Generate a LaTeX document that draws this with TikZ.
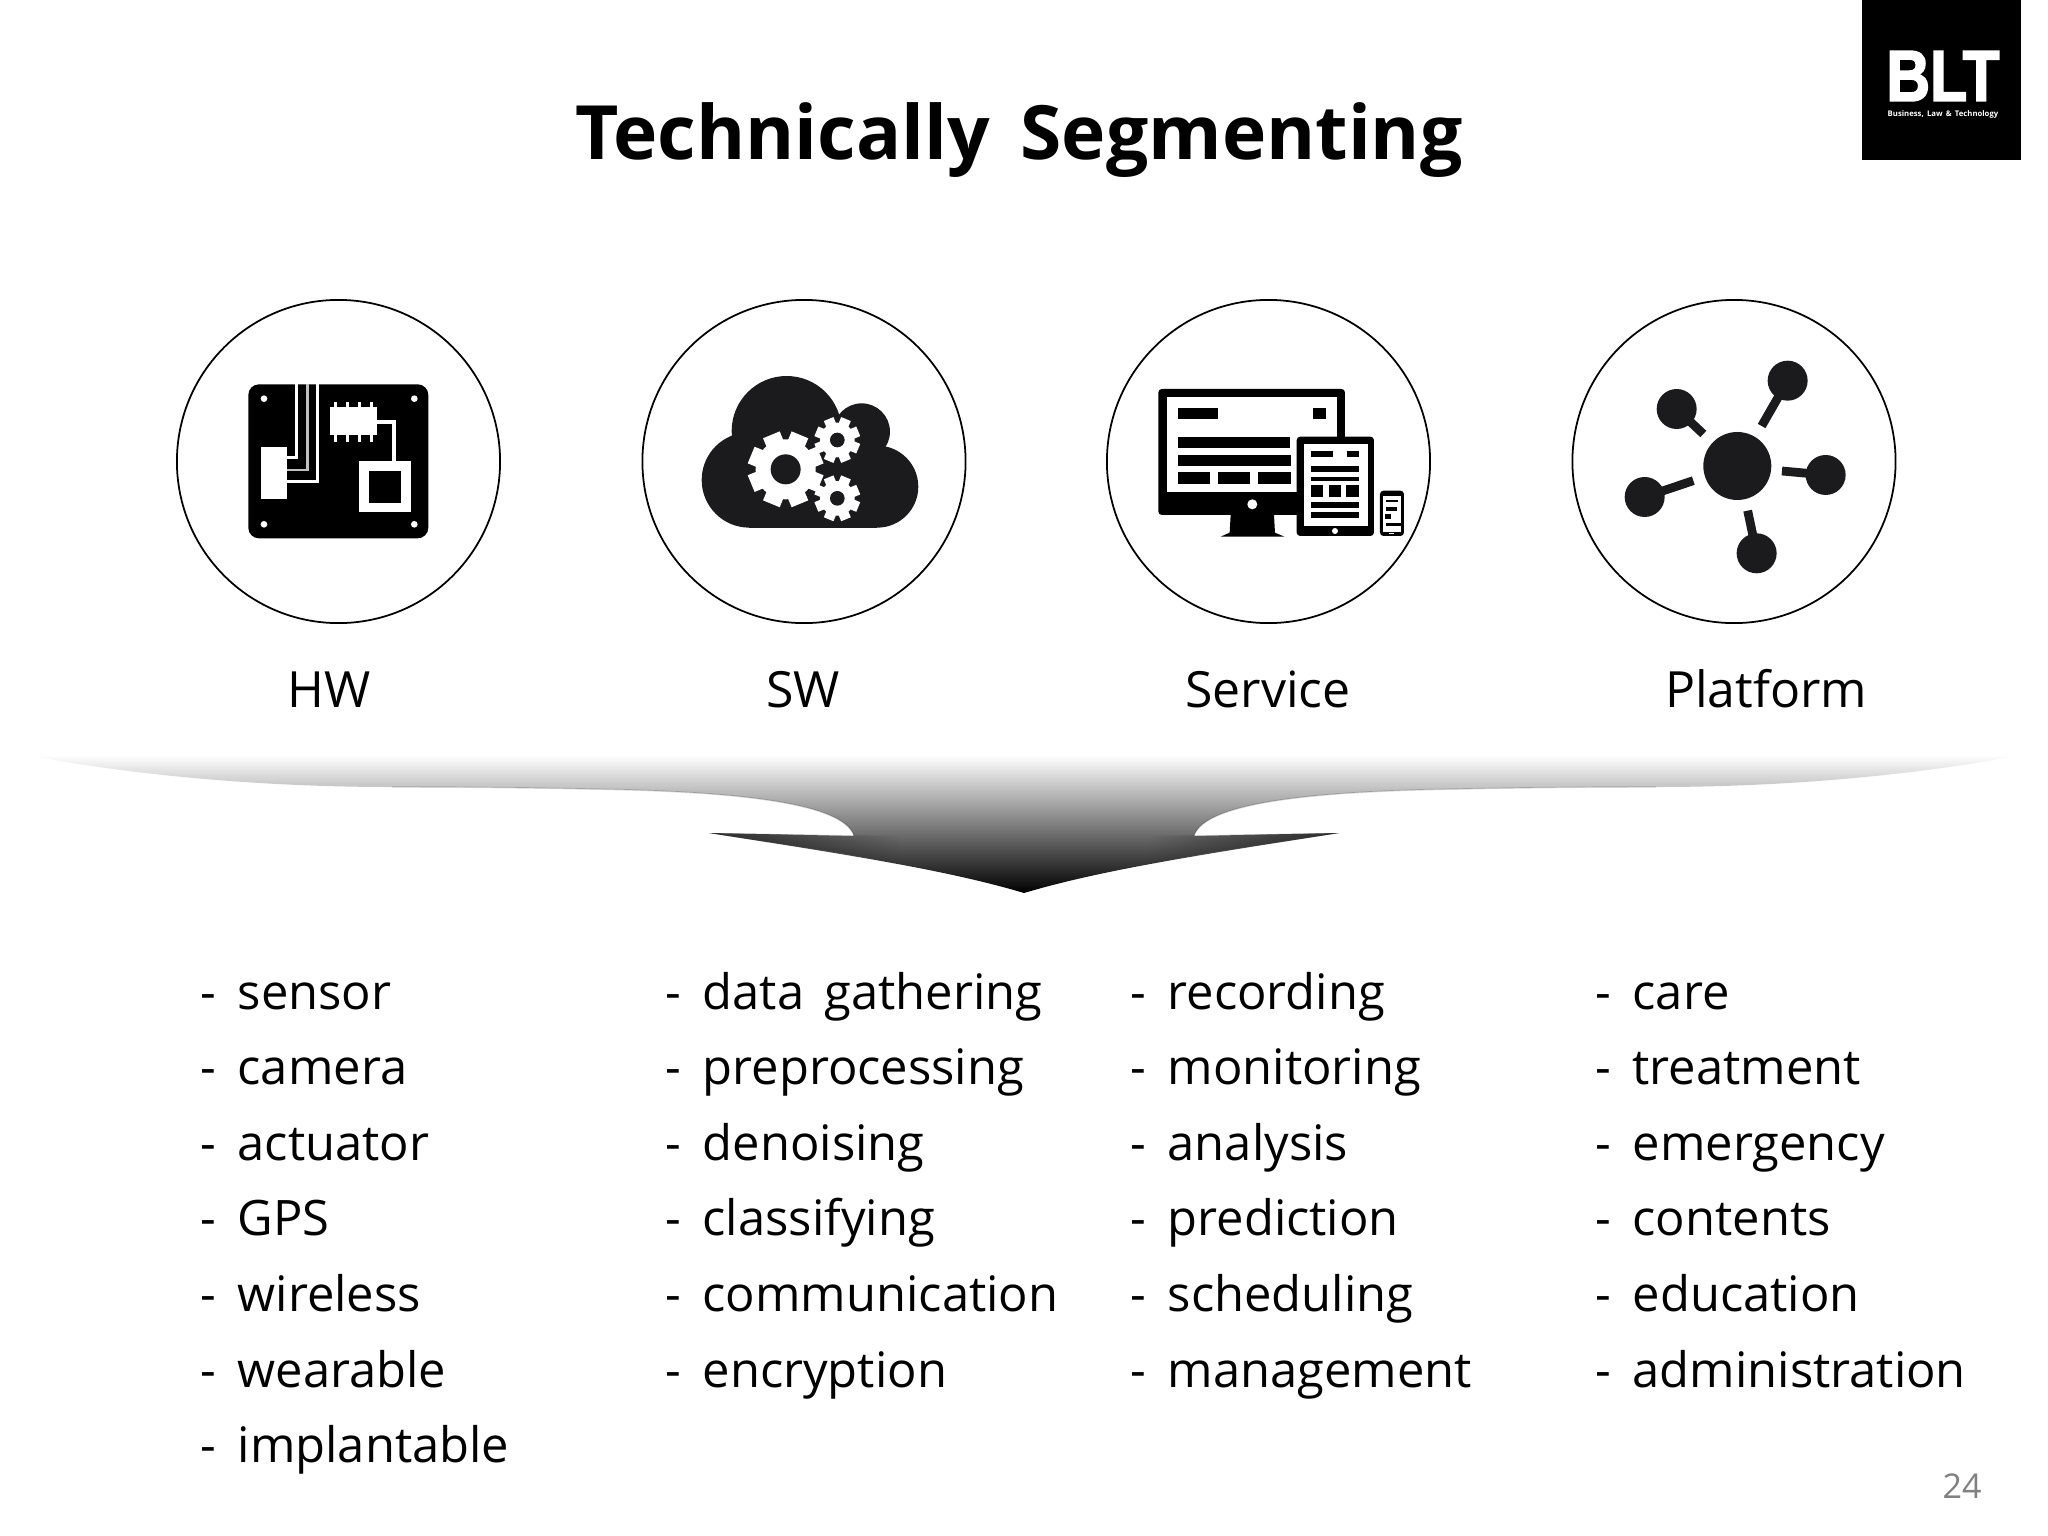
\documentclass[tikz,border=0pt]{standalone}
\usepackage{fontspec}
\setmainfont[WordSpace=1.6]{Open Sans}
\newfontfamily\logofont[FakeBold=2.5]{Liberation Sans Bold}
\usepackage{xcolor}
\usetikzlibrary{fadings}
\definecolor{iconblack}{HTML}{1B1A1D}
\definecolor{pagegray}{HTML}{808080}

\tikzset{
  ring/.style={circle,draw,line width=0.5pt,minimum size=3.23cm,inner sep=0pt},
  headlabel/.style={font=\fontsize{14.2}{16}\selectfont,anchor=base},
  listitem/.style={font=\fontsize{13.9}{16}\selectfont,anchor=base west,inner sep=0pt},
  iconzoom/.style={shift={(#1,290)},scale=0.3333},
  wingrim/.style={black,line width=0.4pt,opacity=0.15}
}

% one gear: centre, tooth radius, root radius, hole radius
\newcommand{\geardraw}[4]{
  \fill[white] (#1) circle (#3);
  \foreach \ang in {0,45,...,315} {
    \fill[white,shift={(#1)},rotate=\ang+22.5] (-#3*0.3,0) rectangle (#3*0.3,#2);
  }
  \fill[iconblack] (#1) circle (#4);
}

\begin{document}
\begin{tikzpicture}[x=0.01cm,y=-0.01cm]
\useasboundingbox (0,0) rectangle (2048,1536);

\node[anchor=base,font=\fontsize{21.3}{26}\selectfont\bfseries] (title) at (1019,159) {Technically Segmenting};

% logo
\fill[black] (1862,0) rectangle (2021,160);
\node[white,inner sep=0pt,xscale=0.84,font=\fontsize{20.5}{22}\logofont] (logo) at (1943,76) {BLT};
\node[white,inner sep=0pt,font=\fontsize{2.2}{3}\selectfont\bfseries] (logosub) at (1943,114) {Business, Law \& Technology};

% rings and labels
\node[ring] (hw) at (338.5,461.5) {};
\node[ring] (sw) at (804,461.5) {};
\node[ring] (service) at (1268.5,461.5) {};
\node[ring] (platform) at (1734,461.5) {};

\node[headlabel] (hwlabel) at (329,707) {HW};
\node[headlabel] (swlabel) at (803,707) {SW};
\node[headlabel] (servicelabel) at (1268,707) {Service};
\node[headlabel] (platformlabel) at (1766,707) {Platform};

% board icon
\begin{scope}[iconzoom=170]
\fill[black,rounded corners=3pt] (235,283) rectangle (775,745);
\foreach \px/\py in {282/326,733/326,282/703,733/703}
  \fill[white] (\px,\py) circle (10);
\fill[white] (272,472) rectangle (350,628);
\draw[white,line width=0.7pt] (380,283) -- (380,503) -- (350,503);
\draw[white!75!black,line width=0.7pt] (412,283) -- (412,540) -- (350,540);
\draw[white,line width=0.7pt] (443,283) -- (443,575) -- (350,575);
\fill[white] (480,352) rectangle (622,436);
\foreach \px in {497,533,568,605}
  \fill[white] (\px-5,335) rectangle (\px+5,455);
\draw[white,line width=1.2pt] (622,395) -- (672,395) -- (672,515);
\fill[white] (568,513) rectangle (723,667);
\fill[black] (597,543) rectangle (693,638);
\end{scope}

% cloud icon
\begin{scope}[iconzoom=640]
\begin{scope}
\clip (100,200) rectangle (900,713);
\fill[iconblack] (440,423) circle (165);
\fill[iconblack] (665,425) circle (85);
\fill[iconblack] (328,570) circle (143);
\fill[iconblack] (712,590) circle (123);
\fill[iconblack] (328,423) rectangle (712,713);
\end{scope}
\geardraw{437,538}{112}{90}{45}
\geardraw{592,450}{68}{52}{22}
\geardraw{592,625}{68}{52}{22}
\end{scope}

% screens icon
\begin{scope}[iconzoom=1100]
\fill[black,rounded corners=1pt] (175,297) rectangle (735,675);
\fill[white] (202,322) rectangle (710,607);
\foreach \ax/\ay/\bx/\by in {233/354/353/386,640/354/677/386,233/440/570/474,233/496/572/528,233/546/330/582,355/546/450/582,473/546/572/582}
  \fill[black] (\ax,\ay) rectangle (\bx,\by);
\fill[white] (457,643) circle (15);
\fill[black] (392,675) -- (522,675) -- (525,728) -- (553,740) -- (362,740) -- (389,728) -- cycle;
\fill[white] (572,420) rectangle (590,607);
\fill[black,rounded corners=1pt] (590,440) rectangle (822,738);
\fill[white] (612,462) rectangle (805,708);
\foreach \ax/\ay/\bx/\by in {633/484/698/500,742/484/778/500,633/528/778/546,633/560/778/574,633/586/668/622,687/586/723/622,737/586/778/622,633/637/778/653,633/667/778/683}
  \fill[black] (\ax,\ay) rectangle (\bx,\by);
\fill[white] (705,723) circle (9);
\fill[black,rounded corners=1pt] (840,602) rectangle (912,738);
\fill[white] (848,617) rectangle (904,725);
\foreach \ax/\ay/\bx/\by in {858/630/895/636,858/652/892/662,855/673/873/687,858/700/903/707}
  \fill[black] (\ax,\ay) rectangle (\bx,\by);
\fill[white] (868,728) rectangle (882,733);
\end{scope}

% hub icon
\begin{scope}[iconzoom=1570]
\coordinate (hub) at (502,528);
\coordinate (sat1) at (653,272);
\coordinate (sat2) at (320,357);
\coordinate (sat3) at (767,555);
\coordinate (sat4) at (224,621);
\coordinate (sat5) at (560,790);
\coordinate (end1) at (575,408);
\coordinate (end2) at (400,432);
\coordinate (end3) at (636,543);
\coordinate (end4) at (370,572);
\coordinate (end5) at (533,662);
\fill[iconblack] (hub) circle (102);
\foreach \n in {1,...,5} {
  \fill[iconblack] (sat\n) circle (60);
  \draw[iconblack,line width=2.5pt] (sat\n) -- (end\n);
}
\end{scope}

% funnel
\shade[top color=white,bottom color=black]
  (26,755) .. controls (131,775) and (261,787) .. (392,787)
  .. controls (480,787) and (540,788) .. (588,789)
  .. controls (718,791) and (843,800) .. (854,836)
  -- (709,833) .. controls (849,855) and (947,870) .. (1024,893)
  .. controls (1101,870) and (1199,855) .. (1339,833)
  -- (1194,836) .. controls (1205,800) and (1330,791) .. (1460,789)
  .. controls (1508,788) and (1568,787) .. (1656,787)
  .. controls (1787,787) and (1917,775) .. (2022,755) -- cycle;
\draw[wingrim] (392,787)
  .. controls (480,787) and (540,788) .. (588,789)
  .. controls (718,791) and (843,800) .. (854,836);
\draw[wingrim] (1656,787)
  .. controls (1568,787) and (1508,788) .. (1460,789)
  .. controls (1330,791) and (1205,800) .. (1194,836);
\fill[black,fill opacity=0.6,path fading=east]
  (709,833) .. controls (790,846) and (850,853) .. (900,864) -- (900,836) -- cycle;
\fill[black,fill opacity=0.6,path fading=west]
  (1339,833) .. controls (1258,846) and (1198,853) .. (1148,864) -- (1148,836) -- cycle;

% lists
\foreach \word [count=\i] in {sensor,camera,actuator,GPS,wireless,wearable,implantable}
  \node[listitem] (hwitem\i) at (200,{1009+(\i-1)*75.6}) {\makebox[37\dimexpr0.01cm\relax][l]{-}\word};
\foreach \word [count=\i] in {data gathering,preprocessing,denoising,classifying,communication,encryption}
  \node[listitem] (switem\i) at (665,{1009+(\i-1)*75.6}) {\makebox[37\dimexpr0.01cm\relax][l]{-}\word};
\foreach \word [count=\i] in {recording,monitoring,analysis,prediction,scheduling,management}
  \node[listitem] (serviceitem\i) at (1130,{1009+(\i-1)*75.6}) {\makebox[37\dimexpr0.01cm\relax][l]{-}\word};
\foreach \word [count=\i] in {care,treatment,emergency,contents,education,administration}
  \node[listitem] (platformitem\i) at (1595,{1009+(\i-1)*75.6}) {\makebox[37\dimexpr0.01cm\relax][l]{-}\word};

\node[pagegray,font=\fontsize{9.7}{12}\selectfont] (pagenum) at (1962,1486) {24};

\end{tikzpicture}
\end{document}
